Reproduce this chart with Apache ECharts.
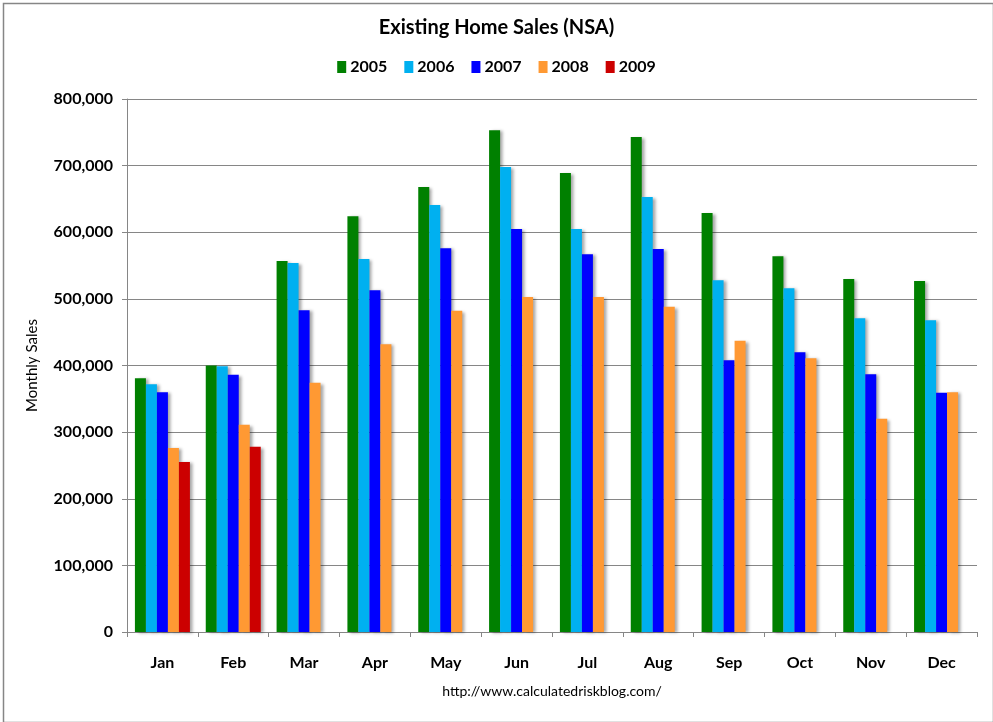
<!DOCTYPE html>
<html>
<head>
<meta charset="utf-8">
<script src="https://cdn.jsdelivr.net/npm/echarts@6/dist/echarts.min.js"></script>
<style>
html,body{margin:0;padding:0;background:#fff;}
#main{width:993px;height:722px;}
</style>
</head>
<body>
<div id="main"></div>
<script>
const months = ['Jan','Feb','Mar','Apr','May','Jun','Jul','Aug','Sep','Oct','Nov','Dec'];
const years = ['2005','2006','2007','2008','2009'];
const sales2005 = [381000,400000,557000,624000,668000,753000,689000,743000,629000,564000,530000,527000];
const sales2006 = [372000,399000,554000,560000,641000,698000,605000,653000,528000,516000,471000,468000];
const sales2007 = [360000,386000,483000,513000,576000,605000,567000,575000,408000,420000,387000,359000];
const sales2008 = [276000,311000,374000,432000,482000,503000,503000,488000,437000,411000,320000,360000];
const sales2009 = [255000,278000,null,null,null,null,null,null,null,null,null,null];
const yTicks = [0,100000,200000,300000,400000,500000,600000,700000,800000];
const colors = ['#008000','#00B0F0','#0000FF','#FF9933','#CC0000'];
const seriesData = [sales2005,sales2006,sales2007,sales2008,sales2009];

const FONT = 'Lato, "Open Sans", sans-serif';
const chart = echarts.init(document.getElementById('main'));
chart.setOption({
  animation:false,
  backgroundColor:'#fff',
  textStyle:{fontFamily:FONT},
  title:{
    text:'Existing Home Sales (NSA)',
    left:'center', top:13,
    textStyle:{fontSize:20,fontWeight:'bold',color:'#000',fontFamily:FONT}
  },
  legend:{
    data:years, top:54, left:'center',
    icon:'rect', itemWidth:9, itemHeight:12, itemGap:17,
    textStyle:{fontSize:16,fontWeight:'bold',color:'#000',fontFamily:FONT,padding:[0,0,0,-1]}
  },
  grid:{left:127,right:16,top:99,bottom:90,containLabel:false},
  xAxis:{
    type:'category', data:months,
    axisLine:{lineStyle:{color:'#868686',width:1}},
    axisTick:{show:true,alignWithLabel:false,length:5,lineStyle:{color:'#868686'}},
    axisLabel:{margin:23,fontSize:16,fontWeight:'bold',color:'#000',fontFamily:FONT}
  },
  yAxis:{
    type:'value', min:yTicks[0], max:yTicks[yTicks.length-1], interval:100000,
    name:'Monthly Sales', nameLocation:'middle', nameGap:87,
    nameTextStyle:{fontSize:15,color:'#000',fontFamily:FONT},
    axisLine:{show:true,lineStyle:{color:'#868686'}},
    axisTick:{show:true,length:5,lineStyle:{color:'#868686'}},
    splitLine:{lineStyle:{color:'#868686',width:1}},
    axisLabel:{margin:14,fontSize:16,fontWeight:'bold',color:'#000',fontFamily:FONT,
      formatter:v=>v.toLocaleString('en-US')}
  },
  series: years.map((y,i)=>({
    name:y, type:'bar', data:seriesData[i], barWidth:11, barGap:'0%',
    itemStyle:{color:colors[i],shadowColor:'rgba(0,0,0,0.35)',shadowBlur:3,shadowOffsetX:3,shadowOffsetY:1}
  })),
  graphic:[
    {type:'rect',left:1,top:1,shape:{width:990,height:719},style:{fill:'none',stroke:'#868686',lineWidth:1.5},silent:true},
    {type:'text',x:552,y:684,style:{text:'http://www.calculatedriskblog.com/',fontSize:14,fill:'#000',fontFamily:FONT,textAlign:'center'}}
  ]
});
</script>
</body>
</html>
